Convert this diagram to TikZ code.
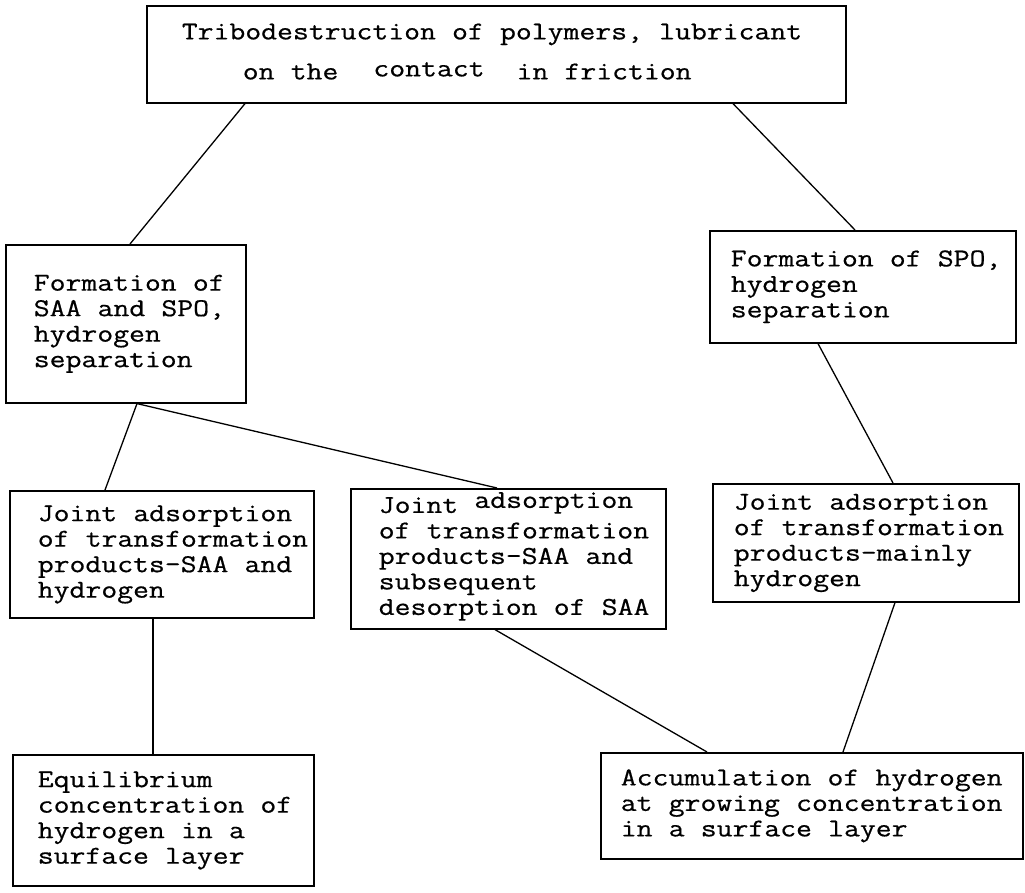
\documentclass[tikz,border=0pt]{standalone}
\usepackage{fontspec}
\newfontfamily\monofont{Latin Modern Mono}[FakeStretch=1.2,FakeBold=0.6]
\newcommand\boxfont{\fontsize{25.7}{25.5}\selectfont\monofont}
\newcommand\ws{\hspace{16.19pt}}
\setlength{\parindent}{0pt}
\begin{document}
\begin{tikzpicture}[x=1pt,y=-1pt,
  box/.style={draw, line width=1.6pt, anchor=north west, inner xsep=0pt, inner ysep=0pt,
    align=left, font=\boxfont},
  link/.style={line width=1.3pt}]
\useasboundingbox (0,0) rectangle (1025,893);

\node[box, text width=699pt, minimum height=97pt] (top) at (146,5)
  {\hspace*{35pt}\begin{tabular}{@{}l@{}}Tribodestruction\ws of\ws polymers,\ws lubricant\\[14.5pt]
   \hspace*{61pt}on\ws the\hspace{35pt}\smash{\raisebox{3pt}{contact}}\hspace{32pt}in\ws friction\end{tabular}};

\node[box, text width=240pt, minimum height=158pt] (A) at (5,244)
  {\hspace*{28pt}\begin{tabular}{@{}l@{}}Formation\ws of\\SAA\ws and\ws SPO,\\hydrogen\\separation\end{tabular}};

\node[box, text width=306pt, minimum height=112pt] (B) at (709,230)
  {\hspace*{21pt}\begin{tabular}{@{}l@{}}Formation\ws of\ws SPO,\\hydrogen\\separation\end{tabular}};

\node[box, text width=304pt, minimum height=127pt] (C) at (9,490)
  {\hspace*{28pt}\begin{tabular}{@{}l@{}}Joint\ws adsorption\\of\ws transformation\\products-SAA\ws and\\hydrogen\end{tabular}};

\node[box, text width=315pt, minimum height=140pt] (D) at (350,488)
  {\hspace*{28pt}\begin{tabular}{@{}l@{}}Joint\ws\smash{\raisebox{5pt}{adsorption}}\\of\ws transformation\\products-SAA\ws and\\subsequent\\desorption\ws of\ws SAA\end{tabular}};

\node[box, text width=306pt, minimum height=118pt] (E) at (712,483)
  {\hspace*{21pt}\begin{tabular}{@{}l@{}}Joint\ws adsorption\\of\ws transformation\\products-mainly\\hydrogen\end{tabular}};

\node[box, text width=301pt, minimum height=131pt] (F) at (12,754)
  {\hspace*{25pt}\begin{tabular}{@{}l@{}}Equilibrium\\concentration\ws of\\hydrogen\ws in\ws a\\surface\ws layer\end{tabular}};

\node[box, text width=422pt, minimum height=106pt] (G) at (600,752)
  {\hspace*{20pt}\begin{tabular}{@{}l@{}}Accumulation\ws of\ws hydrogen\\at\ws growing\ws concentration\\in\ws a\ws surface\ws layer\end{tabular}};

\draw[link] ([xshift=99pt]top.south west) -- ([xshift=125pt]A.north west);
\draw[link] ([xshift=587pt]top.south west) -- ([xshift=146pt]B.north west);
\draw[link] ([xshift=132pt]A.south west) -- ([xshift=96pt]C.north west);
\draw[link] ([xshift=132pt]A.south west) -- ([xshift=147pt]D.north west);
\draw[link] ([xshift=109pt]B.south west) -- ([xshift=181pt]E.north west);
\draw[link] ([xshift=144pt]C.south west) -- ([xshift=141pt]F.north west);
\draw[link] ([xshift=145pt]D.south west) -- ([xshift=107pt]G.north west);
\draw[link] ([xshift=183pt]E.south west) -- ([xshift=243pt]G.north west);
\end{tikzpicture}
\end{document}
